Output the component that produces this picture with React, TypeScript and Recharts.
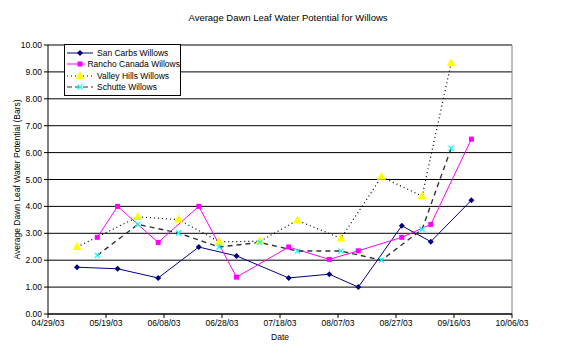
import React from 'react';
import {
  LineChart,
  Line,
  XAxis,
  YAxis,
  CartesianGrid,
  Legend,
  ReferenceLine
} from 'recharts';

// dates as mm/dd/yy, values in bars
const sanCarbsDates = ['05/09/03', '05/23/03', '06/06/03', '06/20/03', '07/03/03', '07/21/03', '08/04/03', '08/14/03', '08/29/03', '09/08/03', '09/22/03'];
const sanCarbsValues = [1.74, 1.68, 1.34, 2.49, 2.16, 1.34, 1.48, 1.0, 3.28, 2.69, 4.23];

const ranchoDates = ['05/16/03', '05/23/03', '06/06/03', '06/20/03', '07/03/03', '07/21/03', '08/04/03', '08/14/03', '08/29/03', '09/08/03', '09/22/03'];
const ranchoValues = [2.85, 4.0, 2.66, 4.0, 1.37, 2.49, 2.03, 2.35, 2.85, 3.33, 6.5];

const valleyDates = ['05/09/03', '05/30/03', '06/13/03', '06/27/03', '07/11/03', '07/24/03', '08/08/03', '08/22/03', '09/05/03', '09/15/03'];
const valleyValues = [2.49, 3.61, 3.51, 2.69, 2.7, 3.48, 2.81, 5.1, 4.38, 9.32];

const schutteDates = ['05/16/03', '05/30/03', '06/13/03', '06/27/03', '07/11/03', '07/24/03', '08/08/03', '08/22/03', '09/05/03', '09/15/03'];
const schutteValues = [2.18, 3.33, 3.01, 2.49, 2.66, 2.34, 2.34, 2.0, 3.15, 6.16];

const xTickLabels = ['04/29/03', '05/19/03', '06/08/03', '06/28/03', '07/18/03', '08/07/03', '08/27/03', '09/16/03', '10/06/03'];
const yTicks = [0, 1, 2, 3, 4, 5, 6, 7, 8, 9, 10];

const FONT = 'Arial, "Liberation Sans", sans-serif';

function toDay(s: string) {
  const [m, d, y] = s.split('/').map(Number);
  return Date.UTC(2000 + y, m - 1, d) / 86400000;
}

const xTicks = xTickLabels.map(toDay);

function build(dates: string[], values: number[]) {
  return dates.map((d, i) => ({ x: toDay(d), y: values[i] }));
}

const sanCarbsData = build(sanCarbsDates, sanCarbsValues);
const ranchoData = build(ranchoDates, ranchoValues);
const valleyData = build(valleyDates, valleyValues);
const schutteData = build(schutteDates, schutteValues);

function formatDay(v: number) {
  const i = xTicks.indexOf(v);
  return i >= 0 ? xTickLabels[i] : '';
}

const Diamond = ({ cx, cy, fill = '#000080' }: any) => (
  <path d={`M${cx},${cy - 3}L${cx + 3},${cy}L${cx},${cy + 3}L${cx - 3},${cy}Z`} fill={fill} />
);
const Square = ({ cx, cy }: any) => (
  <rect x={cx - 2.5} y={cy - 2.5} width={5} height={5} fill="#FF00FF" />
);
const Triangle = ({ cx, cy }: any) => (
  <path d={`M${cx},${cy - 5}L${cx + 4.5},${cy + 3}L${cx - 4.5},${cy + 3}Z`} fill="#FFFF00" />
);
const Cross = ({ cx, cy }: any) => (
  <path d={`M${cx - 2.5},${cy - 2.5}L${cx + 2.5},${cy + 2.5}M${cx + 2.5},${cy - 2.5}L${cx - 2.5},${cy + 2.5}`} stroke="#00FFFF" strokeWidth={1.2} />
);

const legendItems = [
  { name: 'San Carbs Willows', stroke: '#000080', dash: undefined, Mark: Diamond },
  { name: 'Rancho Canada Willows', stroke: '#FF00FF', dash: undefined, Mark: Square },
  { name: 'Valley Hills Willows', stroke: '#000000', dash: '1 3', Mark: Triangle },
  { name: 'Schutte Willows', stroke: '#333333', dash: '5 3', Mark: Cross }
];

function WillowLegend() {
  return (
    <div style={{ border: '1px solid #000', background: '#fff', width: 115, padding: '2px 0', fontFamily: FONT, fontSize: 8.5 }}>
      {legendItems.map(({ name, stroke, dash, Mark }) => (
        <div key={name} style={{ display: 'flex', alignItems: 'center', height: 11.5 }}>
          <svg width={30} height={10} style={{ display: 'block' }}>
            <line x1={2} y1={5} x2={28} y2={5} stroke={stroke} strokeWidth={1} strokeDasharray={dash} />
            <Mark cx={15} cy={5} />
          </svg>
          <span style={{ marginLeft: 2, whiteSpace: 'nowrap' }}>{name}</span>
        </div>
      ))}
    </div>
  );
}

export default function App() {
  const tick = { fill: '#000', fontSize: 8.5, fontFamily: FONT };
  return (
    <div style={{ position: 'absolute', left: 0, top: 0, width: 576, height: 354, background: '#fff' }}>
      <div style={{ position: 'absolute', top: 12, left: 0, width: 576, textAlign: 'center', fontFamily: FONT, fontSize: 9.5 }}>
        Average Dawn Leaf Water Potential for Willows
      </div>
      <LineChart width={576} height={354} margin={{ top: 45, right: 64, left: 0, bottom: 0 }}>
        <CartesianGrid vertical={false} stroke="#000" strokeWidth={1} />
        <XAxis
          type="number"
          dataKey="x"
          domain={[xTicks[0], xTicks[xTicks.length - 1]]}
          ticks={xTicks}
          tickFormatter={formatDay}
          height={40}
          axisLine={{ stroke: '#000' }}
          tickLine={{ stroke: '#000' }}
          tickSize={4}
          tick={tick}
          interval={0}
          allowDataOverflow
          label={{ value: 'Date', position: 'insideBottom', offset: 14, style: tick }}
        />
        <YAxis
          type="number"
          dataKey="y"
          domain={[0, 10]}
          ticks={yTicks}
          tickFormatter={(v: number) => v.toFixed(2)}
          width={48}
          axisLine={{ stroke: '#000' }}
          tickLine={{ stroke: '#000' }}
          tickSize={4}
          tick={tick}
          interval={0}
          label={{ value: 'Average Dawn Leaf Water Potential (Bars)', angle: -90, position: 'insideLeft', offset: 17, style: { ...tick, textAnchor: 'middle' } }}
        />
        <ReferenceLine y={10} stroke="#808080" />
        <ReferenceLine x={xTicks[xTicks.length - 1]} stroke="#808080" />
        <Line data={sanCarbsData} dataKey="y" name="San Carbs Willows" stroke="#000080" strokeWidth={1} dot={(p: any) => <Diamond key={p.index} cx={p.cx} cy={p.cy} />} isAnimationActive={false} />
        <Line data={ranchoData} dataKey="y" name="Rancho Canada Willows" stroke="#FF00FF" strokeWidth={1} dot={(p: any) => <Square key={p.index} cx={p.cx} cy={p.cy} />} isAnimationActive={false} />
        <Line data={valleyData} dataKey="y" name="Valley Hills Willows" stroke="#000000" strokeWidth={1.2} strokeDasharray="1 3" dot={(p: any) => <Triangle key={p.index} cx={p.cx} cy={p.cy} />} isAnimationActive={false} />
        <Line data={schutteData} dataKey="y" name="Schutte Willows" stroke="#333333" strokeWidth={1.4} strokeDasharray="5 4" dot={(p: any) => <Cross key={p.index} cx={p.cx} cy={p.cy} />} isAnimationActive={false} />
        <Legend
          layout="horizontal"
          verticalAlign="middle"
          align="center"
          content={() => <WillowLegend />}
          wrapperStyle={{ position: 'absolute', left: 64, top: 44, width: 117, height: 'auto' }}
        />
      </LineChart>
    </div>
  );
}
